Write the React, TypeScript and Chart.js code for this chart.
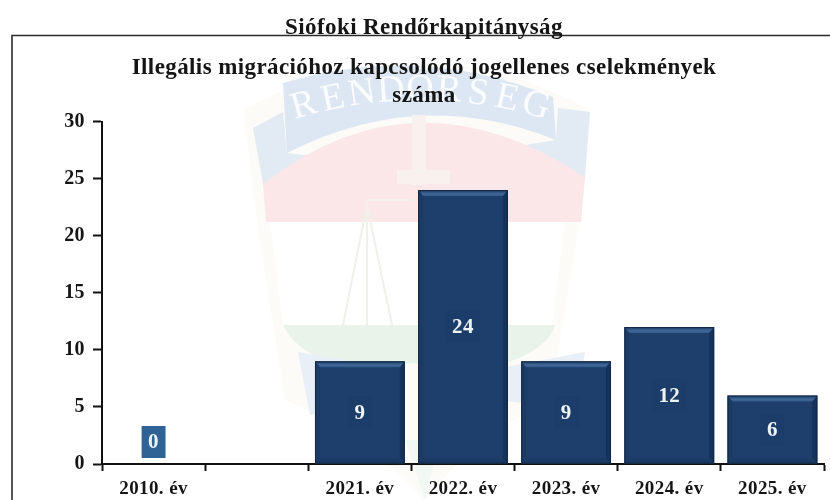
import { useEffect, useRef } from "react";
import { Chart, registerables } from "chart.js";

Chart.register(...registerables);

const categories = ["2010. év", "", "2021. év", "2022. év", "2023. év", "2024. év", "2025. év"];
const counts: (number | null)[] = [0, null, 9, 24, 9, 12, 6];
const pageTitle = "Siófoki Rendőrkapitányság";
const chartTitle = ["Illegális migrációhoz kapcsolódó jogellenes cselekmények", "száma"];
const crest = "RENDŐRSÉG";
const SERIF = "'Liberation Serif', serif";

const backdrop = {
  id: "backdrop",
  beforeDraw(chart: any) {
    const c = chart.ctx as CanvasRenderingContext2D;
    c.save();
    c.fillStyle = "#fff";
    c.fillRect(0, 0, 830, 500);
    // crest outline
    c.fillStyle = "#fcfbf7";
    c.beginPath();
    c.moveTo(243, 110); c.quadraticCurveTo(415, 15, 590, 110);
    c.lineTo(578, 230); c.lineTo(550, 400); c.quadraticCurveTo(470, 440, 425, 500);
    c.quadraticCurveTo(360, 430, 285, 400); c.lineTo(258, 230); c.closePath(); c.fill();
    c.fillStyle = "#fff";
    c.beginPath();
    c.moveTo(270, 222); c.lineTo(565, 222); c.lineTo(552, 325); c.lineTo(283, 325); c.closePath(); c.fill();
    // side ribbons
    c.fillStyle = "#e2eaf4";
    c.beginPath(); c.moveTo(253, 128); c.lineTo(283, 112); c.lineTo(287, 153); c.lineTo(320, 157); c.lineTo(263, 184); c.closePath(); c.fill();
    c.beginPath(); c.moveTo(525, 145); c.lineTo(556, 140); c.lineTo(558, 108); c.lineTo(590, 112); c.lineTo(585, 177); c.closePath(); c.fill();
    // red band
    c.fillStyle = "#fbe7e8";
    c.beginPath(); c.moveTo(263, 184); c.quadraticCurveTo(415, 65, 585, 177); c.lineTo(581, 222); c.lineTo(266, 222); c.closePath(); c.fill();
    // banner
    c.fillStyle = "#dde7f3";
    c.beginPath(); c.moveTo(283, 83); c.quadraticCurveTo(420, 42, 553, 97); c.lineTo(556, 140);
    c.quadraticCurveTo(420, 85, 287, 153); c.closePath(); c.fill();
    // scales
    c.strokeStyle = "#f1f0e9"; c.lineWidth = 2;
    c.beginPath(); c.moveTo(367, 205); c.lineTo(343, 325); c.moveTo(367, 205); c.lineTo(392, 325);
    c.moveTo(345, 325); c.quadraticCurveTo(367, 345, 392, 325);
    c.moveTo(367, 200); c.lineTo(367, 325); c.moveTo(367, 200); c.lineTo(410, 200); c.stroke();
    c.fillStyle = "#f9f1ee"; c.fillRect(412, 115, 14, 70); c.fillRect(397, 170, 53, 14);
    // green band
    c.fillStyle = "#e9f3ea";
    c.beginPath(); c.moveTo(283, 325); c.lineTo(555, 325); c.quadraticCurveTo(548, 350, 500, 365);
    c.lineTo(330, 362); c.quadraticCurveTo(295, 350, 283, 325); c.closePath(); c.fill();
    // lower ribbons
    c.fillStyle = "#e9eff7";
    c.beginPath(); c.moveTo(298, 352); c.lineTo(400, 370); c.lineTo(400, 400); c.lineTo(310, 415); c.closePath(); c.fill();
    c.beginPath(); c.moveTo(500, 368); c.lineTo(585, 352); c.lineTo(575, 410); c.lineTo(500, 400); c.closePath(); c.fill();
    // pale tail behind the lower labels
    c.fillStyle = "#f2f8f3";
    c.beginPath(); c.moveTo(405, 440); c.lineTo(440, 440); c.lineTo(425, 500); c.closePath(); c.fill();
    // crest lettering
    c.fillStyle = "rgba(255,255,255,0.85)"; c.font = `38px ${SERIF}`; c.textAlign = "center"; c.textBaseline = "middle";
    const letters = [...crest];
    letters.forEach((ch, i) => {
      const t = i - (letters.length - 1) / 2;
      const x = 420 + t * 29;
      const y = 90 + t * t * 1.0;
      c.save(); c.translate(x, y); c.rotate(t * 0.07); c.fillText(ch, 0, 0); c.restore();
    });
    // frame
    c.strokeStyle = "#2b2b2b"; c.lineWidth = 1.6;
    c.beginPath(); c.moveTo(12, 500); c.lineTo(12, 35.5); c.lineTo(830, 35.5); c.stroke();
    c.restore();
    (c as any).letterSpacing = "0.4px";
  },
};

const barDecor = {
  id: "barDecor",
  afterDatasetsDraw(chart: any) {
    const c = chart.ctx as CanvasRenderingContext2D;
    const meta = chart.getDatasetMeta(0);
    c.save();
    meta.data.forEach((el: any, i: number) => {
      const v = counts[i];
      if (v === null) return;
      const { x, y, base, width } = el.getProps(["x", "y", "base", "width"], true);
      const l = x - width / 2, r = x + width / 2;
      if (v > 0) {
        const b = 5;
        c.fillStyle = "#1b3a64";
        c.beginPath(); c.moveTo(l, y); c.lineTo(l + b, y + b); c.lineTo(l + b, base - b); c.lineTo(l, base); c.closePath(); c.fill();
        c.fillStyle = "#16315a";
        c.beginPath(); c.moveTo(r, y); c.lineTo(r - b, y + b); c.lineTo(r - b, base - b); c.lineTo(r, base); c.closePath(); c.fill();
        c.fillStyle = "#1b3a64";
        c.beginPath(); c.moveTo(l, base); c.lineTo(l + b, base - b); c.lineTo(r - b, base - b); c.lineTo(r, base); c.closePath(); c.fill();
        const g = c.createLinearGradient(0, y, 0, y + b + 2);
        g.addColorStop(0, "#1b3a63"); g.addColorStop(0.55, "#41699a"); g.addColorStop(1, "#2a4f7d");
        c.fillStyle = g;
        c.beginPath(); c.moveTo(l + 1, y + 1); c.lineTo(r - 1, y + 1); c.lineTo(r - b, y + b + 1); c.lineTo(l + b, y + b + 1); c.closePath(); c.fill();
        c.strokeStyle = "#132843"; c.lineWidth = 1;
        c.strokeRect(l + 0.5, y + 0.5, width - 1, base - y - 1);
      }
      const cy = v > 0 ? (y + base) / 2 : base - 22;
      const text = String(v);
      c.font = `bold 21px ${SERIF}`;
      const tw = c.measureText(text).width;
      const bw = tw + 13, bh = 32;
      c.fillStyle = v > 0 ? "#1c3d69" : "#2f6395";
      c.fillRect(x - bw / 2, cy - bh / 2, bw, bh);
      c.fillStyle = "#eef3f5"; c.textAlign = "center"; c.textBaseline = "middle";
      c.fillText(text, x, cy + 1);
    });
    c.restore();
  },
};

export default function App() {
  const ref = useRef<HTMLCanvasElement>(null);
  useEffect(() => {
    const chart = new Chart(ref.current!, {
      type: "bar",
      data: {
        labels: categories,
        datasets: [{
          data: counts,
          backgroundColor: "#1e3f6b",
          barPercentage: 0.87,
          categoryPercentage: 1,
        }],
      },
      plugins: [backdrop, barDecor],
      options: {
        animation: false,
        responsive: false,
        layout: { padding: { left: 24, right: 6, top: 0, bottom: 0 } },
        plugins: {
          legend: { display: false },
          tooltip: { enabled: false },
          title: {
            display: true, text: pageTitle, color: "#151515",
            font: { family: SERIF, weight: "bold", size: 23, lineHeight: 1.15 },
            padding: { top: 15, bottom: 13 },
          },
          subtitle: {
            display: true, text: chartTitle, color: "#151515",
            font: { family: SERIF, weight: "bold", size: 23, lineHeight: 1.2 },
            padding: { top: 0, bottom: 12 },
          },
        },
        scales: {
          x: {
            grid: { offset: true, drawOnChartArea: false, tickLength: 7, tickColor: "#111", tickWidth: 2 },
            border: { color: "#111", width: 2 },
            ticks: {
              color: "#151515", padding: 7, maxRotation: 0, autoSkip: false,
              font: { family: SERIF, weight: "bold", size: 19 },
            },
            afterFit(s: any) { s.height = 36; },
          },
          y: {
            min: 0, max: 30,
            grid: { drawOnChartArea: false, tickLength: 9, tickColor: "#111", tickWidth: 2 },
            border: { color: "#111", width: 2 },
            ticks: {
              stepSize: 5, color: "#151515", padding: 8,
              font: { family: SERIF, weight: "bold", size: 20 },
            },
            afterFit(s: any) { s.width = 78; },
          },
        },
      } as any,
    });
    return () => chart.destroy();
  }, []);
  return (
    <div style={{ position: "absolute", left: 0, top: 0, width: 830, height: 500 }}>
      <canvas ref={ref} width={830} height={500} style={{ display: "block" }} />
    </div>
  );
}
